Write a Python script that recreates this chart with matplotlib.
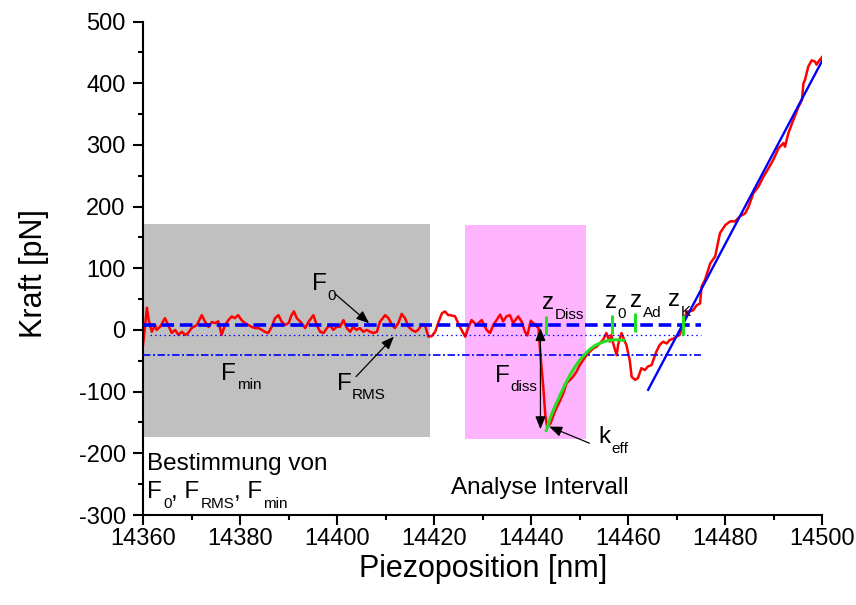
import matplotlib
matplotlib.use('Agg')
import matplotlib.pyplot as plt
from matplotlib.ticker import MultipleLocator
from matplotlib.patches import Rectangle

plt.rcParams['font.family'] = ['Liberation Sans', 'DejaVu Sans']
plt.rcParams['axes.unicode_minus'] = False

# measured force curve (piezo position in nm, force in pN)
piezo = [14360.0, 14360.4, 14360.8, 14361.2, 14361.8, 14362.5, 14362.8, 14363.5, 14364.5, 14365.2,
         14365.9, 14366.6, 14367.3, 14368.0, 14368.7, 14369.3, 14370.0, 14371.1, 14372.1, 14372.8,
         14373.5, 14374.2, 14374.8, 14375.5, 14376.2, 14376.9, 14377.6, 14378.3, 14378.9, 14379.6,
         14380.3, 14381.0, 14381.7, 14382.4, 14383.1, 14383.8, 14384.5, 14385.1, 14385.8, 14386.5,
         14387.2, 14387.9, 14388.6, 14389.3, 14390.0, 14390.6, 14391.1, 14391.7, 14392.7, 14393.4,
         14394.1, 14395.1, 14395.8, 14396.5, 14397.2, 14397.9, 14398.5, 14399.2, 14399.9, 14400.6,
         14401.3, 14402.0, 14402.7, 14403.3, 14404.0, 14404.7, 14405.4, 14406.1, 14406.8, 14407.5,
         14408.2, 14408.8, 14409.9, 14410.6, 14411.3, 14411.9, 14412.6, 14413.3, 14414.0, 14414.7,
         14415.4, 14416.1, 14416.7, 14417.4, 14418.1, 14418.8, 14419.5, 14420.2, 14420.9, 14421.6,
         14422.2, 14422.9, 14423.3, 14424.3, 14425.3, 14426.4, 14427.0, 14427.7, 14428.7, 14429.8,
         14430.8, 14431.5, 14432.2, 14433.6, 14434.2, 14434.9, 14435.6, 14436.3, 14437.3, 14438.0,
         14438.7, 14439.2, 14439.9, 14440.8, 14441.5, 14441.8, 14442.5, 14442.9, 14443.3, 14444.0,
         14444.9, 14445.8, 14446.6, 14447.3, 14448.0, 14448.6, 14449.3, 14450.0, 14450.7, 14451.4,
         14452.1, 14452.8, 14453.5, 14454.1, 14454.8, 14455.5, 14455.9, 14456.2, 14456.5, 14456.9,
         14457.6, 14457.9, 14458.6, 14459.3, 14459.6, 14460.3, 14460.7, 14461.4, 14462.0, 14462.7,
         14463.4, 14464.1, 14464.8, 14465.8, 14466.5, 14467.2, 14467.9, 14468.6, 14469.3, 14469.9,
         14470.6, 14471.3, 14472.0, 14472.7, 14473.4, 14474.1, 14474.8, 14475.1, 14475.8, 14476.9,
         14477.9, 14478.9, 14480.0, 14481.0, 14482.0, 14483.0, 14484.1, 14484.8, 14485.8, 14486.8,
         14487.9, 14488.9, 14489.9, 14491.0, 14492.0, 14492.3, 14493.0, 14494.0, 14495.1, 14495.8,
         14496.1, 14496.4, 14497.1, 14497.8, 14498.5, 14498.8, 14499.2, 14499.9, 14500.0]
kraft = [-24, 5, 36, 15, -3, 8, 0, 5, 19, 8,
         -5, 0, -8, -3, -8, -5, 3, 8, 24, 13,
         5, 13, 11, 14, -8, 8, 16, 22, 19, 24,
         16, 11, 8, 5, 3, 3, 0, -3, -5, 5,
         19, 24, 13, 8, 11, 24, 30, 19, 11, 3,
         13, 24, 8, -3, -5, 3, 8, 0, 5, 5,
         16, 3, -3, 5, 0, 3, -3, 0, -3, -5,
         -3, 13, 24, 19, 8, 3, 11, 26, 19, 5,
         0, -3, 0, 8, 8, -11, -10, -3, 13, 27,
         30, 24, 24, 22, 5, -11, 3, 16, 8, 16,
         0, -5, 8, 25, 14, 22, 24, 11, 22, 14,
         -3, -9, 15, 8, 3, -30, -94, -138, -158, -151,
         -132, -117, -103, -86, -81, -76, -68, -57, -49, -41,
         -35, -30, -27, -22, -16, -5, -14, -19, -8, -22,
         -41, -24, -5, -19, -24, -49, -76, -81, -78, -62,
         -65, -59, -57, -35, -24, -19, -22, -16, -14, -11,
         -8, 8, 30, 30, 32, 40, 43, 70, 81, 108,
         119, 157, 170, 176, 176, 184, 189, 200, 222, 232,
         249, 262, 276, 295, 303, 297, 319, 340, 362, 373,
         400, 405, 427, 437, 435, 430, 435, 442, 443]

# linear fit of the contact region
fit_x = [14464.1, 14500.0]
fit_y = [-97, 437]

# effective stiffness fit after rupture
keff_x = [14443.1, 14444.0, 14445.0, 14446.0, 14447.0, 14448.0, 14449.0, 14450.0, 14451.0,
          14452.0, 14453.0, 14454.0, 14455.0, 14456.0, 14457.0, 14458.0, 14459.0]
keff_y = [-163, -141, -122, -105, -88, -73, -60, -49, -40, -32, -26, -22, -19, -17, -16, -16, -17]

# horizontal levels
f0 = 7.5
f_rms = -8
f_min = -40.5
level_end = 14475.0

# positions z_Diss, z_0, z_Ad, z_K
marker_x = [14443.0, 14456.7, 14461.3, 14471.3]
marker_lo = [-8, -7, -4, -8]
marker_hi = [23, 24, 27, 24]

# shaded intervals (x0, x1, y0, y1)
gray_box = (14360.0, 14419.1, -173, 171)
pink_box = (14426.3, 14451.3, -177, 170)

fig = plt.figure(figsize=(8.56, 6.05), dpi=100)
ax = fig.add_axes([0.1671, 0.14876, 0.7936, 0.8157])

ax.add_patch(Rectangle((gray_box[0], gray_box[2]), gray_box[1] - gray_box[0], gray_box[3] - gray_box[2],
                       facecolor='#c0c0c0', edgecolor='none', zorder=0))
ax.add_patch(Rectangle((pink_box[0], pink_box[2]), pink_box[1] - pink_box[0], pink_box[3] - pink_box[2],
                       facecolor='#ffb4ff', edgecolor='none', zorder=0))

ax.plot(piezo, kraft, color='#ff0000', lw=1.8, zorder=2)

ax.plot([14360, level_end], [f0, f0], color='#0000ff', lw=2.6, ls=(0, (3.5, 1.6)), zorder=3)
ax.plot([14361.5, level_end], [f_rms, f_rms], color='#0000ff', lw=0.9, ls=(0, (1.2, 2.5)), zorder=3)
ax.plot([14360, level_end], [f_min, f_min], color='#0000ff', lw=1.2, ls=(0, (4.5, 1.5, 1.2, 1.5)), zorder=3)
ax.plot(fit_x, fit_y, color='#0000ff', lw=1.7, zorder=3)

ax.plot(keff_x, keff_y, color='#22e022', lw=2.2, zorder=4)
ax.vlines(marker_x, marker_lo, marker_hi, color='#22e022', lw=2.2, zorder=4)

ap = dict(arrowstyle='-|>,head_length=0.55,head_width=0.22', color='k', lw=0.9, mutation_scale=14,
          shrinkA=0, shrinkB=0)
ax.annotate('', xy=(14406.6, 10.8), xytext=(14399.6, 58.3), arrowprops=ap, zorder=5)
ax.annotate('', xy=(14411.7, -10.8), xytext=(14403.9, -75.7), arrowprops=ap, zorder=5)
ax.annotate('', xy=(14443.7, -156.7), xytext=(14452.0, -183.6), arrowprops=ap, zorder=5)
ap2 = dict(ap, arrowstyle='<|-|>,head_length=0.55,head_width=0.22')
ax.annotate('', xy=(14441.9, -161), xytext=(14441.9, 3), arrowprops=ap2, zorder=5)

BIG = 17.5
SMALL = 11


def sublabel(x, y, main, sub):
    t = ax.text(x, y, main, fontsize=BIG, ha='left', va='baseline', zorder=6)
    s = ax.annotate(sub, xy=(1, 0), xycoords=t, xytext=(0.5, -3.3), textcoords='offset points',
                    fontsize=SMALL, ha='left', va='baseline', zorder=6)
    return t, s


sublabel(14394.8, 64.8, 'F', '0')
sublabel(14376.1, -81, 'F', 'min')
sublabel(14399.9, -97, 'F', 'RMS')
sublabel(14432.5, -84, 'F', 'diss')
sublabel(14453.8, -183.6, 'k', 'eff')
sublabel(14442.2, 34, 'z', 'Diss')
sublabel(14455.2, 35, 'z', '0')
sublabel(14460.3, 36.8, 'z', 'Ad')
sublabel(14468.2, 38.9, 'z', 'K')

ax.text(14360.9, -227, 'Bestimmung von', fontsize=BIG, ha='left', va='baseline')
ax.text(14423.5, -266, 'Analyse Intervall', fontsize=BIG, ha='left', va='baseline')

# F0, FRMS, Fmin line
prev_main, prev_sub = sublabel(14360.9, -273, 'F', '0')
for sub in ['RMS', 'min']:
    t = ax.annotate(', F', xy=(1, 0), xycoords=(prev_sub, prev_main), fontsize=BIG,
                    ha='left', va='bottom', zorder=6)
    s = ax.annotate(sub, xy=(1, 0), xycoords=t, xytext=(0.5, -3.3), textcoords='offset points',
                    fontsize=SMALL, ha='left', va='baseline', zorder=6)
    prev_main, prev_sub = t, s

ax.set_xlim(14360, 14500)
ax.set_ylim(-300, 500)
ax.xaxis.set_major_locator(MultipleLocator(20))
ax.xaxis.set_minor_locator(MultipleLocator(10))
ax.yaxis.set_major_locator(MultipleLocator(100))
ax.yaxis.set_minor_locator(MultipleLocator(50))

for side in ['top', 'right']:
    ax.spines[side].set_visible(False)
for side in ['left', 'bottom']:
    ax.spines[side].set_linewidth(1.5)

ax.tick_params(which='major', direction='out', length=7, width=1.5, labelsize=17)
ax.tick_params(which='minor', direction='out', length=3.8, width=1.5)
ax.tick_params(axis='x', which='major', pad=2.5)
ax.tick_params(axis='y', which='major', pad=5.5)

ax.set_xlabel('Piezoposition [nm]', fontsize=22)
ax.set_ylabel('Kraft [pN]', fontsize=22)
ax.xaxis.set_label_coords(0.5, -0.08)
ax.yaxis.set_label_coords(-0.139, 0.49)

fig.savefig('out.png', dpi=100)
